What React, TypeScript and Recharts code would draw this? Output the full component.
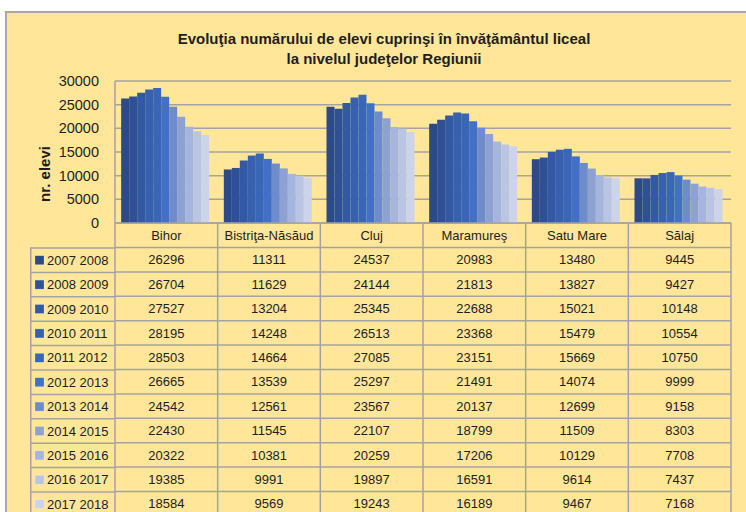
import React from 'react';
import { BarChart, Bar, XAxis, YAxis, CartesianGrid, Legend } from 'recharts';

const categories = ['Bihor', 'Bistriţa-Năsăud', 'Cluj', 'Maramureş', 'Satu Mare', 'Sălaj'];

const seriesNames = [
  '2007 2008', '2008 2009', '2009 2010', '2010 2011', '2011 2012', '2012 2013',
  '2013 2014', '2014 2015', '2015 2016', '2016 2017', '2017 2018',
];

const y0708 = [26296, 11311, 24537, 20983, 13480, 9445];
const y0809 = [26704, 11629, 24144, 21813, 13827, 9427];
const y0910 = [27527, 13204, 25345, 22688, 15021, 10148];
const y1011 = [28195, 14248, 26513, 23368, 15479, 10554];
const y1112 = [28503, 14664, 27085, 23151, 15669, 10750];
const y1213 = [26665, 13539, 25297, 21491, 14074, 9999];
const y1314 = [24542, 12561, 23567, 20137, 12699, 9158];
const y1415 = [22430, 11545, 22107, 18799, 11509, 8303];
const y1516 = [20322, 10381, 20259, 17206, 10129, 7708];
const y1617 = [19385, 9991, 19897, 16591, 9614, 7437];
const y1718 = [18584, 9569, 19243, 16189, 9467, 7168];

const seriesValues = [y0708, y0809, y0910, y1011, y1112, y1213, y1314, y1415, y1516, y1617, y1718];

const yTicks = [0, 5000, 10000, 15000, 20000, 25000, 30000];

const colors = [
  '#2C4A87', '#2F5096', '#3358A4', '#3760AE', '#3A66B8', '#4270C6',
  '#6E8BCB', '#8DA2D3', '#A6B5DD', '#BAC5E4', '#CDD4EA',
];

const data = categories.map((name, i) => {
  const row: Record<string, string | number> = { name };
  seriesValues.forEach((vals, s) => {
    row['s' + s] = vals[i];
  });
  return row;
});

// layout
const W = 746;
const H = 512;
const PLOT_LEFT = 115;
const PLOT_RIGHT = 731;
const PLOT_TOP = 81;
const PLOT_BOTTOM = 223;
const BAND = (PLOT_RIGHT - PLOT_LEFT) / categories.length;
const HEADER_H = 24.5;
const ROW_H = 24.4;
const TABLE_LEFT = 30;
const LINE = '#A3A3A3';
const TEXT = '#1E1E1E';
const FONT = '"Liberation Sans", Arial, sans-serif';

const TableColumn = (props: any) => {
  const { x, payload } = props;
  const ci = categories.indexOf(payload.value);
  const left = x - BAND / 2;
  const right = x + BAND / 2;
  const rowsTop = PLOT_BOTTOM + HEADER_H;
  return (
    <g>
      <line x1={left} x2={left} y1={PLOT_BOTTOM} y2={H} stroke={LINE} strokeWidth={1.5} />
      {ci === categories.length - 1 && (
        <line x1={right} x2={right} y1={PLOT_BOTTOM} y2={H} stroke={LINE} strokeWidth={1.5} />
      )}
      <text x={x} y={PLOT_BOTTOM + HEADER_H / 2} dy="0.36em" textAnchor="middle" fontSize={13} fill={TEXT} fontFamily={FONT}>
        {payload.value}
      </text>
      {seriesValues.map((vals, s) => (
        <g key={s}>
          <line x1={left} x2={right} y1={rowsTop + s * ROW_H} y2={rowsTop + s * ROW_H} stroke={LINE} strokeWidth={1.5} />
          <text x={x} y={rowsTop + s * ROW_H + ROW_H / 2} dy="0.36em" textAnchor="middle" fontSize={13} fill={TEXT} fontFamily={FONT}>
            {vals[ci]}
          </text>
        </g>
      ))}
    </g>
  );
};

const LegendColumn = (props: any) => {
  const items = props.payload || [];
  const w = PLOT_LEFT - TABLE_LEFT;
  return (
    <svg width={w + 2} height={ROW_H * items.length + 2} style={{ display: 'block', overflow: 'visible' }}>
      <line x1={0.75} x2={0.75} y1={0} y2={ROW_H * items.length + 10} stroke={LINE} strokeWidth={1.5} />
      {items.map((it: any, i: number) => (
        <g key={it.value}>
          <line x1={0} x2={w} y1={i * ROW_H} y2={i * ROW_H} stroke={LINE} strokeWidth={1.5} />
          <rect x={5} y={i * ROW_H + ROW_H / 2 - 4.5} width={9} height={9} fill={it.color} stroke="rgba(255,255,255,0.35)" strokeWidth={0.6} />
          <text x={17} y={i * ROW_H + ROW_H / 2} dy="0.36em" fontSize={13} fill={TEXT} fontFamily={FONT}>
            {it.value}
          </text>
        </g>
      ))}
    </svg>
  );
};

const YLabel = () => (
  <text
    x={44}
    y={174}
    transform="rotate(-90 44 174)"
    textAnchor="middle"
    dominantBaseline="central"
    fontSize={15}
    fontWeight="bold"
    fill={TEXT}
    fontFamily={FONT}
  >
    nr. elevi
  </text>
);

const App = () => {
  return (
    <div style={{ position: 'absolute', left: 0, top: 0, width: W, height: H, overflow: 'hidden', background: '#fff' }}>
      <div
        style={{
          position: 'absolute',
          left: 5,
          top: 11,
          width: 780,
          height: 540,
          background: '#FFE699',
          borderLeft: '2px solid #A8A8A8',
          borderTop: '2px solid #A8A8A8',
        }}
      />
      <div
        style={{
          position: 'absolute',
          left: 0,
          top: 29,
          width: 768,
          textAlign: 'center',
          fontFamily: FONT,
          fontWeight: 'bold',
          fontSize: 15,
          lineHeight: '20px',
          color: TEXT,
        }}
      >
        Evoluţia numărului de elevi cuprinşi în învăţământul liceal
        <br />
        la nivelul judeţelor Regiunii
      </div>
      <div style={{ position: 'absolute', left: 0, top: 0 }}>
        <BarChart
          width={W}
          height={H}
          data={data}
          margin={{ top: PLOT_TOP, right: W - PLOT_RIGHT, left: 0, bottom: 0 }}
          barGap={0}
          barCategoryGap="6%"
          style={{ fontFamily: FONT }}
        >
          <CartesianGrid vertical={false} stroke={LINE} strokeWidth={1.5} />
          <XAxis
            dataKey="name"
            height={H - PLOT_BOTTOM}
            interval={0}
            tickLine={false}
            axisLine={{ stroke: LINE, strokeWidth: 1.5 }}
            tick={<TableColumn />}
          />
          <YAxis
            width={PLOT_LEFT}
            domain={[0, 30000]}
            ticks={yTicks}
            interval={0}
            tickLine={false}
            axisLine={{ stroke: LINE, strokeWidth: 1.5 }}
            tickSize={0}
            tickMargin={16}
            tick={{ fontSize: 14.5, fill: TEXT, fontFamily: FONT }}
            label={<YLabel />}
          />
          <Legend
            layout="vertical"
            align="center"
            verticalAlign="middle"
            content={<LegendColumn />}
            wrapperStyle={{ left: TABLE_LEFT, top: PLOT_BOTTOM + HEADER_H, width: PLOT_LEFT - TABLE_LEFT + 2, margin: 0, padding: 0 }}
          />
          {seriesNames.map((n, s) => (
            <Bar key={n} dataKey={'s' + s} name={n} fill={colors[s]} isAnimationActive={false} />
          ))}
        </BarChart>
      </div>
    </div>
  );
};

export default App;
